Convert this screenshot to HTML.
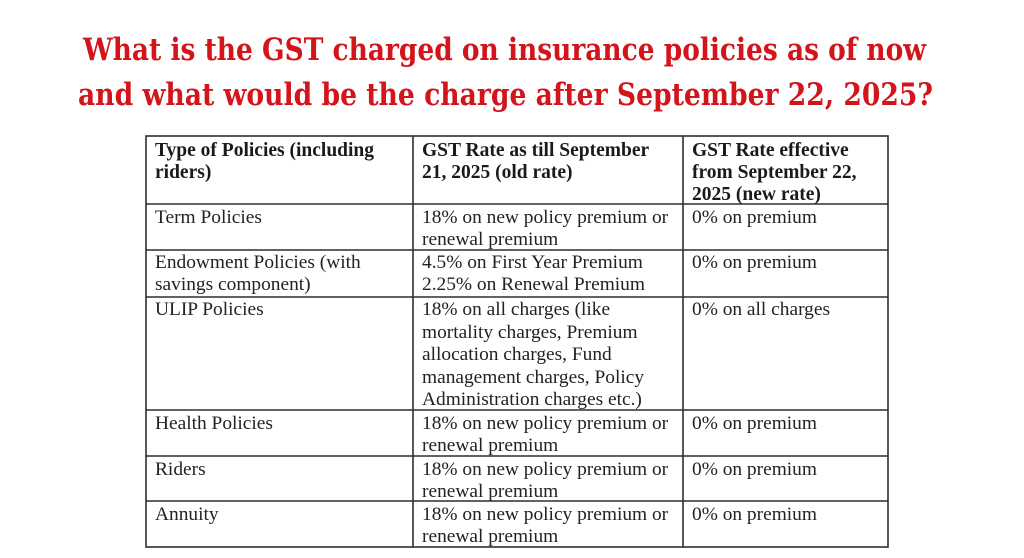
<!DOCTYPE html>
<html>
<head>
<meta charset="utf-8">
<style>
  html, body { margin:0; padding:0; background:#ffffff; }
  svg { display:block; }
  .t { font-family: "DejaVu Serif", "Liberation Serif", serif; font-weight:bold; font-size:31px; fill:#d3141b; }
  .c { font-family: "Liberation Serif", serif; font-size:19.4px; fill:#222; }
  .h { font-family: "Liberation Serif", serif; font-size:19.5px; font-weight:bold; fill:#1a1a1a; }
</style>
</head>
<body>
<svg width="1024" height="558" viewBox="0 0 1024 558" xmlns="http://www.w3.org/2000/svg">
  <rect x="0" y="0" width="1024" height="558" fill="#ffffff"/>
  <!-- Title -->
  <text class="t" x="83" y="60" textLength="843" lengthAdjust="spacingAndGlyphs">What is the GST charged on insurance policies as of now</text>
  <text class="t" x="78" y="105" textLength="855" lengthAdjust="spacingAndGlyphs">and what would be the charge after September 22, 2025?</text>

  <!-- Table grid -->
  <g stroke="#2e2e2e" stroke-width="1.6" fill="none">
    <rect x="146" y="136" width="742" height="411"/>
    <line x1="413" y1="136" x2="413" y2="547"/>
    <line x1="683" y1="136" x2="683" y2="547"/>
    <line x1="146" y1="204" x2="888" y2="204"/>
    <line x1="146" y1="250" x2="888" y2="250"/>
    <line x1="146" y1="297" x2="888" y2="297"/>
    <line x1="146" y1="410" x2="888" y2="410"/>
    <line x1="146" y1="456" x2="888" y2="456"/>
    <line x1="146" y1="501" x2="888" y2="501"/>
  </g>

  <!-- Header -->
  <text class="h" x="155" y="156">Type of Policies (including</text>
  <text class="h" x="155" y="178">riders)</text>
  <text class="h" x="422" y="156">GST Rate as till September</text>
  <text class="h" x="422" y="178">21, 2025 (old rate)</text>
  <text class="h" x="692" y="156">GST Rate effective</text>
  <text class="h" x="692" y="178">from September 22,</text>
  <text class="h" x="692" y="200">2025 (new rate)</text>

  <!-- Term -->
  <text class="c" x="155" y="223">Term Policies</text>
  <text class="c" x="422" y="223">18% on new policy premium or</text>
  <text class="c" x="422" y="245">renewal premium</text>
  <text class="c" x="692" y="223">0% on premium</text>

  <!-- Endowment -->
  <text class="c" x="155" y="268">Endowment Policies (with</text>
  <text class="c" x="155" y="290">savings component)</text>
  <text class="c" x="422" y="268">4.5% on First Year Premium</text>
  <text class="c" x="422" y="290">2.25% on Renewal Premium</text>
  <text class="c" x="692" y="268">0% on premium</text>

  <!-- ULIP -->
  <text class="c" x="155" y="315">ULIP Policies</text>
  <text class="c" x="422" y="315">18% on all charges (like</text>
  <text class="c" x="422" y="338">mortality charges, Premium</text>
  <text class="c" x="422" y="360">allocation charges, Fund</text>
  <text class="c" x="422" y="383">management charges, Policy</text>
  <text class="c" x="422" y="405">Administration charges etc.)</text>
  <text class="c" x="692" y="315">0% on all charges</text>

  <!-- Health -->
  <text class="c" x="155" y="429">Health Policies</text>
  <text class="c" x="422" y="429">18% on new policy premium or</text>
  <text class="c" x="422" y="451">renewal premium</text>
  <text class="c" x="692" y="429">0% on premium</text>

  <!-- Riders -->
  <text class="c" x="155" y="475">Riders</text>
  <text class="c" x="422" y="475">18% on new policy premium or</text>
  <text class="c" x="422" y="497">renewal premium</text>
  <text class="c" x="692" y="475">0% on premium</text>

  <!-- Annuity -->
  <text class="c" x="155" y="520">Annuity</text>
  <text class="c" x="422" y="520">18% on new policy premium or</text>
  <text class="c" x="422" y="542">renewal premium</text>
  <text class="c" x="692" y="520">0% on premium</text>
</svg>
</body>
</html>
